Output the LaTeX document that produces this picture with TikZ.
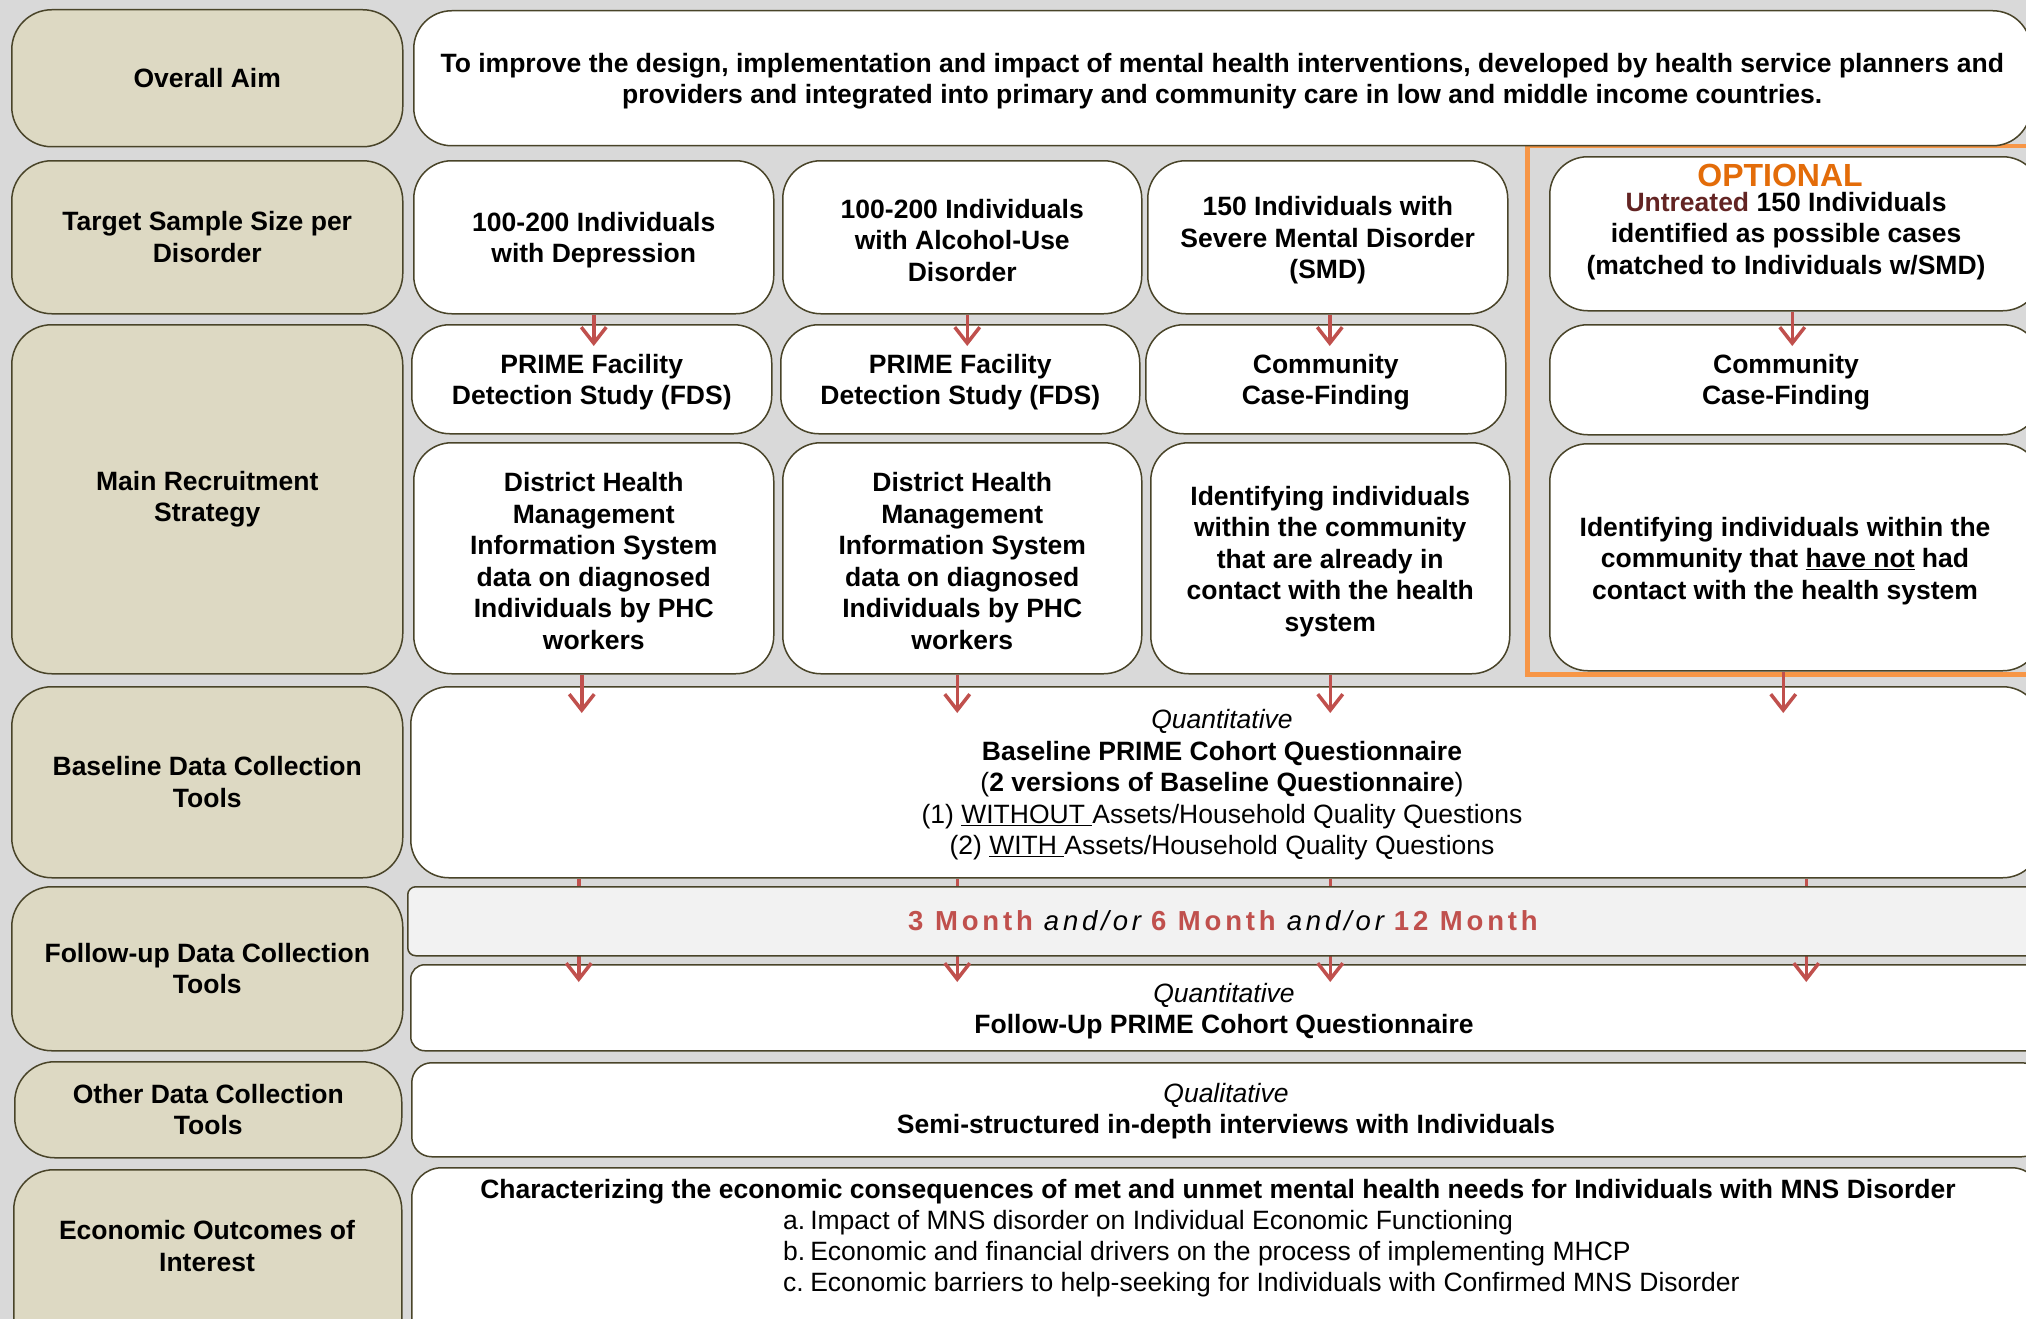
\documentclass[tikz,border=0pt]{standalone}
\usepackage{fontspec}
\setmainfont{Liberation Sans}
\usetikzlibrary{arrows.meta,calc}
\definecolor{bggray}{HTML}{D9D9D9}
\definecolor{beige}{HTML}{DDD9C3}
\definecolor{edgec}{HTML}{494429}
\definecolor{arrred}{HTML}{C0504D}
\definecolor{optframe}{HTML}{F79646}
\definecolor{opttext}{HTML}{E36C09}
\definecolor{untr}{HTML}{632423}
\definecolor{bandc}{HTML}{F2F2F2}
\tikzset{
 basebox/.style={draw=edgec, line width=1.5pt, inner sep=0pt, anchor=north west, align=center,
   font=\fontsize{26.5}{31.5}\selectfont\bfseries},
 lbox/.style={basebox, fill=beige, rounded corners=40pt},
 wbox/.style={basebox, fill=white, rounded corners=38pt},
 txt/.style={inner sep=0pt, align=center, font=\fontsize{26.5}{31.5}\selectfont\bfseries},
 arr/.style={draw=arrred, line width=3.5pt, -{Straight Barb[length=16pt,width=25pt]}},
}
\newcommand\mybox[7]{\node[#1, minimum width={(#4)-(#2)}, minimum height={(#5)-(#3)}] (#6) at (#2,#3) {#7};}
\newcommand\mywbox[7]{\node[#1, minimum width={(#4)-(#2)}, minimum height={(#5)-(#3)}] (#6) at (#2,#3) {};
  \node[txt] (#6t) at ($(#6.center)+(0,3)$) {#7};}
\newcommand\mnth[1]{{\bfseries\color{arrred}\addfontfeature{LetterSpace=14}#1}}
\newcommand\andor{{\itshape\addfontfeature{LetterSpace=14}and/or}}
\begin{document}
\begin{tikzpicture}[x=1pt,y=-1pt]
\useasboundingbox (0,0) rectangle (2026,1319);
\clip (0,0) rectangle (2026,1319);
\fill[bggray] (0,0) rectangle (2026,1319);
% orange optional frame
\node[draw=optframe, line width=4.5pt, minimum width=520, minimum height=528, anchor=north west, inner sep=0pt] (optfr) at (1525,144) {};
% left column
\mybox{lbox}{11}{9}{402}{146}{L1}{Overall Aim}
\mybox{lbox}{11}{160}{402}{313}{L2}{Target Sample Size per\\Disorder}
\mybox{lbox}{11}{324}{402}{673}{L3}{Main Recruitment\\Strategy}
\mybox{lbox}{11}{686}{402}{877}{L4}{Baseline Data Collection\\Tools}
\mybox{lbox}{11}{886}{402}{1050}{L5}{Follow-up Data Collection\\Tools}
\mybox{lbox}{14}{1061}{401}{1157}{L6}{Other Data Collection\\Tools}
\mybox{lbox}{13}{1169}{401}{1380}{L7}{}
\node[txt] (L7t) at (207,1246) {Economic Outcomes of\\Interest};
% aim
\mywbox{wbox}{413}{10}{2030}{145}{aim}{\fontsize{26.5}{31}\selectfont To improve the design, implementation and impact of mental health interventions, developed by health service planners and\\providers and integrated into primary and community care in low and middle income countries.}
% row 2
\mywbox{wbox}{413}{160}{773}{313}{r2c1}{100-200 Individuals\\with Depression}
\mywbox{wbox}{782}{160}{1141}{313}{r2c2}{100-200 Individuals\\with Alcohol-Use\\Disorder}
\mywbox{wbox}{1147}{160}{1507}{313}{r2c3}{150 Individuals with\\Severe Mental Disorder\\(SMD)}
\mybox{wbox}{1549}{156}{2040}{310}{r2c4}{}
\node[txt] (r2c4t) at (1786,222) {{\fontsize{32}{32}\selectfont\color{opttext}OPTIONAL}\hspace*{12pt}\mbox{}\\[-7pt]{\color{untr}Untreated} 150 Individuals\\identified as possible cases\\(matched to Individuals w/SMD)};
% row 3
\mywbox{wbox}{411}{324}{771}{433}{r3c1}{PRIME Facility\\Detection Study (FDS)}
\mywbox{wbox}{780}{324}{1139}{433}{r3c2}{PRIME Facility\\Detection Study (FDS)}
\mywbox{wbox}{1145}{324}{1505}{433}{r3c3}{Community\\Case-Finding}
\mybox{wbox}{1549}{324}{2040}{434}{r3c4}{}
\node[txt] (r3c4t) at (1786,382) {Community\\Case-Finding};
% row 4
\mywbox{wbox}{413}{442}{773}{673}{r4c1}{District Health\\Management\\Information System\\data on diagnosed\\Individuals by PHC\\workers}
\mywbox{wbox}{782}{442}{1141}{673}{r4c2}{District Health\\Management\\Information System\\data on diagnosed\\Individuals by PHC\\workers}
\mywbox{wbox}{1150}{442}{1509}{673}{r4c3}{Identifying individuals\\within the community\\that are already in\\contact with the health\\system}
\mybox{wbox}{1549}{443}{2040}{670}{r4c4}{}
\node[txt] (r4c4t) at (1785,561) {Identifying individuals within the\\community that \underline{have not} had\\contact with the health system};
% baseline
\mybox{wbox}{410}{686}{2040}{877}{bl}{}
\node[txt] (blt) at (1222,785) {{\itshape\mdseries Quantitative}\\Baseline PRIME Cohort Questionnaire\\{\mdseries(}2 versions of Baseline Questionnaire{\mdseries)}\\{\mdseries (1) \underline{WITHOUT\ }Assets/Household Quality Questions}\\{\mdseries (2) \underline{WITH\ }Assets/Household Quality Questions}};
% follow-up
\node[basebox, fill=white, rounded corners=14pt, minimum width=1630, minimum height=86] (fu) at (410,964) {};
\node[txt] (fut) at (1224,1011) {{\itshape\mdseries Quantitative}\\Follow-Up PRIME Cohort Questionnaire};
% other
\node[basebox, fill=white, rounded corners=20pt, minimum width=1630, minimum height=94] (oth) at (411,1062) {};
\node[txt] (otht) at (1226,1111) {{\itshape\mdseries Qualitative}\\Semi-structured in-depth interviews with Individuals};
% economic
\node[basebox, fill=white, rounded corners=30pt, minimum width=1630, minimum height=200] (eco) at (411,1167) {};
\node[txt, anchor=base] (ecoh) at (1218,1198) {Characterizing the economic consequences of met and unmet mental health needs for Individuals with MNS Disorder};
\node[txt, anchor=base west, font=\fontsize{26.5}{31}\selectfont] (ecol) at (783,1229) {\begin{tabular}[t]{@{}l@{\hspace{5pt}}l@{}}a.&Impact of MNS disorder on Individual Economic Functioning\\b.&Economic and financial drivers on the process of implementing MHCP\\c.&Economic barriers to help-seeking for Individuals with Confirmed MNS Disorder\end{tabular}};
% arrows row2 -> row3
\draw[arr] (r2c1.south) -- ($(r2c1.south |- r3c1.north)+(0,22)$);
\draw[arr] ($(r2c2.south)+(5,0)$) -- ($(r2c2.south |- r3c2.north)+(5,22)$);
\draw[arr] ($(r2c3.south)+(2,0)$) -- ($(r2c3.south |- r3c3.north)+(2,22)$);
\draw[arr] ($(r2c4.south)+(-3,0)$) -- ($(r2c4.south |- r3c4.north)+(-3,22)$);
% arrows row4 -> baseline
\draw[arr] ($(r4c1.south)+(-12,0)$) -- ($(r4c1.south |- bl.north)+(-12,27)$);
\draw[arr] ($(r4c2.south)+(-5,0)$) -- ($(r4c2.south |- bl.north)+(-5,27)$);
\draw[arr] ($(r4c3.south)+(0,0)$) -- ($(r4c3.south |- bl.north)+(0,27)$);
\draw[arr] ($(r4c4.south)+(-12,0)$) -- ($(r4c4.south |- bl.north)+(-12,27)$);
% arrows baseline -> follow-up
\draw[arr] ($(r4c1.south |- bl.south)+(-15,0)$) -- ($(r4c1.south |- fu.north)+(-15,18)$);
\draw[arr] ($(r4c2.south |- bl.south)+(-5,0)$) -- ($(r4c2.south |- fu.north)+(-5,18)$);
\draw[arr] ($(r4c3.south |- bl.south)+(0,0)$) -- ($(r4c3.south |- fu.north)+(0,18)$);
\draw[arr] ($(r4c4.south |- bl.south)+(11,0)$) -- ($(r4c4.south |- fu.north)+(11,18)$);
% month band
\node[basebox, fill=bandc, rounded corners=8pt, minimum width=1633, minimum height=69] (band) at (407,886) {};
\node[txt, font=\fontsize{27.5}{31}\selectfont] (bandt) at (1223,921) {\mnth{3 Month}\hspace{11pt}\andor\hspace{10pt}\mnth{6 Month}\hspace{11pt}\andor\hspace{10pt}\mnth{12 Month}};
\end{tikzpicture}
\end{document}
